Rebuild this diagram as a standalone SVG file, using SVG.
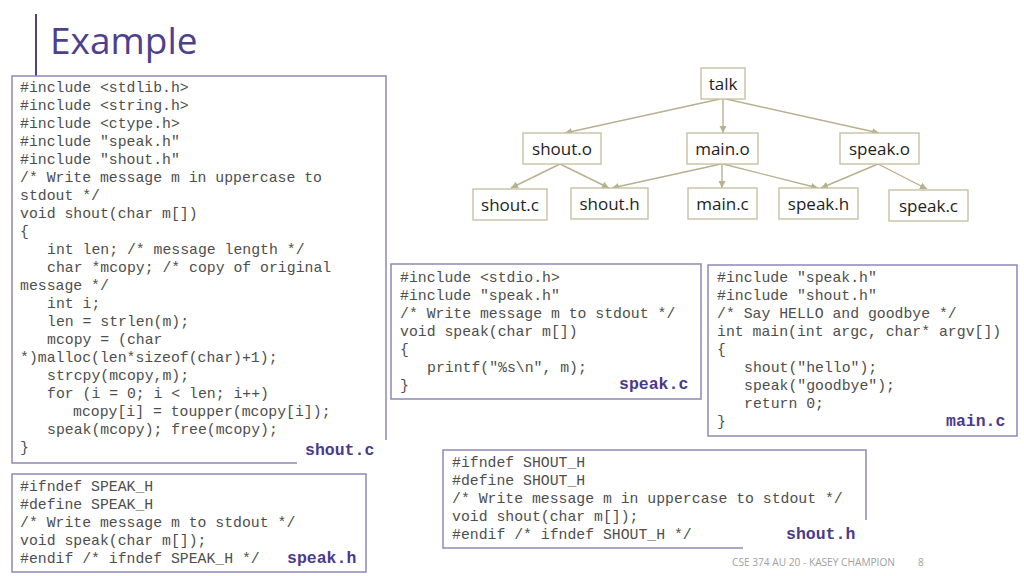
<svg xmlns="http://www.w3.org/2000/svg" width="1024" height="576" viewBox="0 0 1024 576">
<style>
.code{font-family:"Liberation Mono","Courier New",monospace;font-size:14.8px;fill:#4e4e4e}
.lbl{font-family:"Liberation Mono","Courier New",monospace;font-size:16.5px;font-weight:bold;fill:#4b3a8a}
.box{fill:#fff;stroke:#8e89b8;stroke-width:1.5}
.node rect{fill:#fff;stroke:#c4bc9c;stroke-width:1.3}
.node text{font-family:"Open Sans","Noto Sans",sans-serif;font-size:17px;fill:#1e1e1e;text-anchor:middle}
.edge{stroke:#b8b08e;stroke-width:1.4;fill:none;marker-end:url(#ah)}
</style>
<defs>
<marker id="ah" markerWidth="8" markerHeight="8" refX="7" refY="4" orient="auto" markerUnits="userSpaceOnUse">
<path d="M0,0.5 L7,4 L0,7.5 Z" fill="#b8b08e"/>
</marker>
</defs>
<rect width="1024" height="576" fill="#fff"/>
<g id="title">
<line x1="36" y1="14" x2="36" y2="76" stroke="#4f3f8f" stroke-width="2"/>
<text x="50" y="54" font-family="Open Sans,Noto Sans,sans-serif" font-size="37" fill="#4f3f8f">Example</text>
</g>

<g id="shout_c">
<rect class="box" x="12" y="76" width="374" height="387"/>
<rect x="297" y="440" width="90" height="25" fill="#fff"/>
<text class="code">
<tspan x="20" y="92">#include &lt;stdlib.h&gt;</tspan>
<tspan x="20" y="110">#include &lt;string.h&gt;</tspan>
<tspan x="20" y="128">#include &lt;ctype.h&gt;</tspan>
<tspan x="20" y="146">#include "speak.h"</tspan>
<tspan x="20" y="164">#include "shout.h"</tspan>
<tspan x="20" y="182">/* Write message m in uppercase to</tspan>
<tspan x="20" y="200">stdout */</tspan>
<tspan x="20" y="218">void shout(char m[])</tspan>
<tspan x="20" y="236">{</tspan>
<tspan x="47" y="254">int len; /* message length */</tspan>
<tspan x="47" y="272">char *mcopy; /* copy of original</tspan>
<tspan x="20" y="290">message */</tspan>
<tspan x="47" y="308">int i;</tspan>
<tspan x="47" y="326">len = strlen(m);</tspan>
<tspan x="47" y="344">mcopy = (char</tspan>
<tspan x="20" y="362">*)malloc(len*sizeof(char)+1);</tspan>
<tspan x="47" y="380">strcpy(mcopy,m);</tspan>
<tspan x="47" y="398">for (i = 0; i &lt; len; i++)</tspan>
<tspan x="73" y="416">mcopy[i] = toupper(mcopy[i]);</tspan>
<tspan x="47" y="434">speak(mcopy); free(mcopy);</tspan>
<tspan x="20" y="452">}</tspan>
</text>
<text class="lbl" x="305" y="455">shout.c</text>
</g>

<g id="speak_c">
<rect class="box" x="391" y="264" width="310" height="135"/>
<text class="code">
<tspan x="400" y="282">#include &lt;stdio.h&gt;</tspan>
<tspan x="400" y="300">#include "speak.h"</tspan>
<tspan x="400" y="318">/* Write message m to stdout */</tspan>
<tspan x="400" y="336">void speak(char m[])</tspan>
<tspan x="400" y="354">{</tspan>
<tspan x="427" y="372">printf("%s\n", m);</tspan>
<tspan x="400" y="390">}</tspan>
</text>
<text class="lbl" x="619" y="389">speak.c</text>
</g>

<g id="main_c">
<rect class="box" x="708" y="265" width="309" height="171"/>
<text class="code">
<tspan x="717" y="282">#include "speak.h"</tspan>
<tspan x="717" y="300">#include "shout.h"</tspan>
<tspan x="717" y="318">/* Say HELLO and goodbye */</tspan>
<tspan x="717" y="336">int main(int argc, char* argv[])</tspan>
<tspan x="717" y="354">{</tspan>
<tspan x="744" y="372">shout("hello");</tspan>
<tspan x="744" y="390">speak("goodbye");</tspan>
<tspan x="744" y="408">return 0;</tspan>
<tspan x="717" y="426">}</tspan>
</text>
<text class="lbl" x="946" y="426">main.c</text>
</g>

<g id="shout_h">
<rect class="box" x="443" y="450" width="423" height="98"/>
<rect x="743" y="520" width="125" height="30" fill="#fff"/>
<text class="code">
<tspan x="452" y="467">#ifndef SHOUT_H</tspan>
<tspan x="452" y="485">#define SHOUT_H</tspan>
<tspan x="452" y="503">/* Write message m in uppercase to stdout */</tspan>
<tspan x="452" y="521">void shout(char m[]);</tspan>
<tspan x="452" y="539">#endif /* ifndef SHOUT_H */</tspan>
</text>
<text class="lbl" x="786" y="539">shout.h</text>
</g>

<g id="speak_h">
<rect class="box" x="12" y="474" width="354" height="98"/>
<text class="code">
<tspan x="20" y="491">#ifndef SPEAK_H</tspan>
<tspan x="20" y="509">#define SPEAK_H</tspan>
<tspan x="20" y="527">/* Write message m to stdout */</tspan>
<tspan x="20" y="545">void speak(char m[]);</tspan>
<tspan x="20" y="563">#endif /* ifndef SPEAK_H */</tspan>
</text>
<text class="lbl" x="287" y="563">speak.h</text>
</g>

<g id="connectors">
<line class="edge" x1="720" y1="99" x2="565" y2="133"/>
<line class="edge" x1="723" y1="99" x2="723" y2="133"/>
<line class="edge" x1="726" y1="99" x2="879" y2="133"/>
<line class="edge" x1="560" y1="164" x2="511" y2="188"/>
<line class="edge" x1="560" y1="164" x2="609" y2="188"/>
<line class="edge" x1="721" y1="164" x2="612" y2="188"/>
<line class="edge" x1="722" y1="164" x2="722" y2="188"/>
<line class="edge" x1="723" y1="164" x2="818" y2="188"/>
<line class="edge" x1="878" y1="164" x2="821" y2="188"/>
<line class="edge" x1="878" y1="164" x2="927" y2="189"/>
</g>

<g id="n_talk" class="node"><rect x="701" y="68" width="44" height="31"/><text x="723" y="90">talk</text></g>
<g id="n_shout_o" class="node"><rect x="523" y="133" width="78" height="31"/><text x="562" y="155">shout.o</text></g>
<g id="n_main_o" class="node"><rect x="687" y="133" width="71" height="31"/><text x="722.5" y="155">main.o</text></g>
<g id="n_speak_o" class="node"><rect x="840" y="133" width="79" height="31"/><text x="879.5" y="155">speak.o</text></g>
<g id="n_shout_c" class="node"><rect x="473" y="189" width="74" height="31"/><text x="510" y="211">shout.c</text></g>
<g id="n_shout_h" class="node"><rect x="571" y="188" width="77" height="31"/><text x="609.5" y="210">shout.h</text></g>
<g id="n_main_c" class="node"><rect x="688" y="188" width="69" height="31"/><text x="722.5" y="210">main.c</text></g>
<g id="n_speak_h" class="node"><rect x="779" y="188" width="79" height="31"/><text x="818.5" y="210">speak.h</text></g>
<g id="n_speak_c" class="node"><rect x="889" y="190" width="79" height="31"/><text x="928.5" y="212">speak.c</text></g>

<g id="footer" font-family="Open Sans,Noto Sans,sans-serif" font-size="10" fill="#a0a0a0">
<text x="732" y="566" textLength="163" lengthAdjust="spacingAndGlyphs">CSE 374 AU 20 - KASEY CHAMPION</text>
<text x="918" y="566">8</text>
</g>
</svg>
